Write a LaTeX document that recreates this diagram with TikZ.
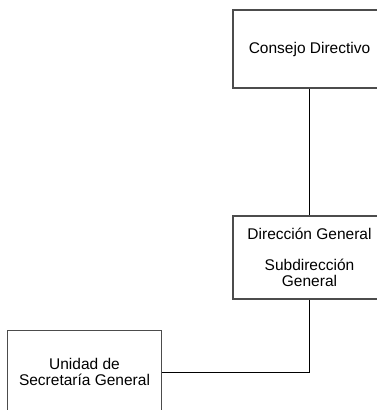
\documentclass[tikz,border=0pt]{standalone}
\usepackage{fontspec}
\setmainfont{Liberation Sans}
\tikzset{
  orgbox/.style={draw=black!70, line width=1.1pt, fill=white, align=center, inner sep=0pt,
    font=\fontsize{15.5}{15.5}\selectfont},
  link/.style={draw=black, line width=0.9pt}
}
\begin{document}
\begin{tikzpicture}[x=1pt,y=-1pt]
\useasboundingbox (0,0) rectangle (377,410);
\clip (0,0) rectangle (377,410);
\node[orgbox, minimum width=153pt, minimum height=78pt] (consejo) at (309.5,49) {Consejo Directivo};
\node[orgbox, minimum width=153pt, minimum height=83pt] (direccion) at (309.5,257.5)
  {Dirección General\\[15.5pt]Subdirección\\General};
\node[orgbox, minimum width=154pt, minimum height=83pt] (unidad) at (84.5,372)
  {Unidad de\\Secretaría General};
\draw[link] (consejo.south) -- (direccion.north);
\draw[link] (direccion.south) |- (unidad.east);
\end{tikzpicture}
\end{document}
